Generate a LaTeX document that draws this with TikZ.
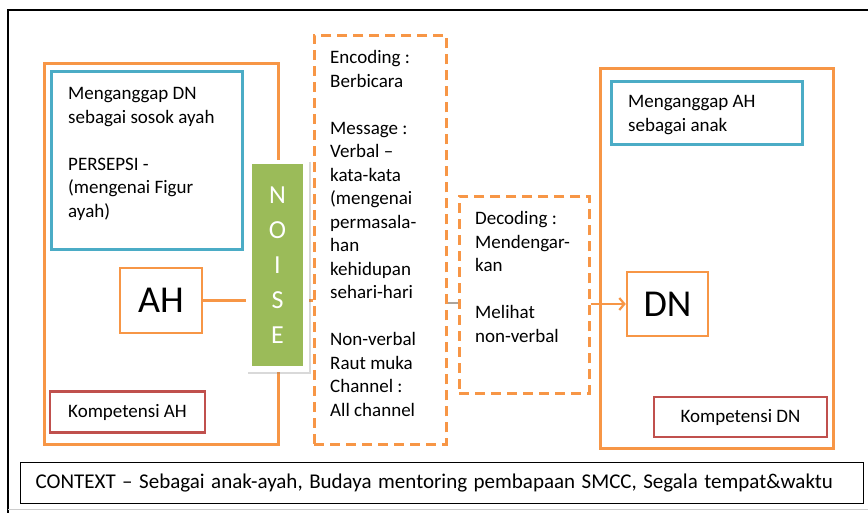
\documentclass[tikz,border=0pt]{standalone}
\usepackage{fontspec}
\setmainfont{Carlito}
\usepackage{xcolor}
\usepackage{tikz}
\usetikzlibrary{arrows.meta,positioning,shadows}
\definecolor{CommOrange}{HTML}{F79646}
\definecolor{CommBlue}{HTML}{4BACC6}
\definecolor{CommRed}{HTML}{C0504D}
\definecolor{CommGreen}{HTML}{9BBB59}
\definecolor{LinkGrey}{HTML}{ABA49C}

\begin{document}
\begin{tikzpicture}[
  x=1pt, y=-1pt,
  font=\fontsize{19}{23.5}\selectfont,
  boxsize/.style 2 args={minimum width=#1pt,minimum height=#2pt},
  frame/.style={draw=CommOrange,line width=2.5pt,anchor=north west,inner sep=0pt},
  viewbox/.style={draw=CommBlue,line width=2.6pt,anchor=north west,inner sep=0pt},
  skillbox/.style={draw=CommRed,line width=2.6pt,inner sep=0pt},
  person/.style={draw=CommOrange,line width=2.5pt,inner sep=0pt,font=\fontsize{38}{40}\selectfont},
  codebox/.style={draw=CommOrange,line width=2.6pt,dash pattern=on 10pt off 6pt,anchor=north west,inner sep=0pt},
  txt/.style={align=left,anchor=north west,inner sep=0pt,execute at begin node=\strut},
  ctxbox/.style={draw=black,line width=1.3pt,anchor=north west,minimum height=41pt,text width=813pt,inner xsep=15pt,align=left,
    font=\fontsize{21}{24}\selectfont,execute at begin node={\spaceskip=6.5pt plus 1pt\relax}},
  link/.style={draw=CommOrange,line width=2.5pt},
  arrow/.style={link,-{Straight Barb[length=5pt,width=12pt,line width=2.2pt]}}
]
  \useasboundingbox (0,0) rectangle (868,512);
  \draw[line width=2.6pt] (872,10) -- (8,10) -- (8,514);
  \draw[black!20,line width=1pt] (8,509) -- (868,509);

  \node[frame,boxsize={234}{381}] (ahside) at (43,62) {};
  \node[viewbox,boxsize={191}{178}] (ahview) at (50,70) {};
  \node[txt] (ahviewtxt) at (68,87.5) {Menganggap DN\\sebagai sosok ayah\\[23.5pt]PERSEPSI -\\(mengenai Figur\\ayah)};
  \node[person,boxsize={82}{65}] (AH) at (161,300.5) {AH};
  \node[skillbox,boxsize={155}{41}] (ahskill) at (127.5,412) {Kompetensi AH};

  \node[codebox,boxsize={132}{409}] (enc) at (313,34) {};
  \node[txt] (enctxt) at (330,50.5) {Encoding :\\Berbicara\\[23.5pt]Message :\\Verbal –\\kata-kata\\(mengenai\\permasala-\\han\\kehidupan\\sehari-hari\\[23.5pt]Non-verbal\\Raut muka\\Channel :\\All channel};

  \node[codebox,boxsize={130}{197}] (dec) at (458,195) {};
  \node[txt] (dectxt) at (475,211.5) {Decoding :\\Mendengar-\\kan\\[23.5pt]Melihat\\non-verbal};

  \node[frame,boxsize={233}{380}] (dnside) at (599,67) {};
  \node[viewbox,boxsize={191}{63}] (dnview) at (610,80) {};
  \node[txt] (dnviewtxt) at (628,95.5) {Menganggap AH\\sebagai anak};
  \node[person,boxsize={81}{64}] (DN) at (667.5,304) {DN};
  \node[skillbox,boxsize={173}{40}] (dnskill) at (740.5,417) {Kompetensi DN};

  \draw[link] (AH.east) -- (AH.east -| enc.west);
  \coordinate (msg) at (0,303);
  \draw[link,draw=LinkGrey] (enc.east |- msg) -- (dec.west |- msg);
  \draw[arrow] (dec.east |- DN.west) -- (DN.west);

  \node[fill=white,drop shadow={opacity=0.3,shadow xshift=1.5pt,shadow yshift=-2pt},boxsize={63}{212},inner sep=0pt] (noisebg) at (277.5,266) {};
  \node[fill=CommGreen,boxsize={51}{202},inner sep=0pt,align=center,text=white,font=\fontsize{26}{35}\selectfont] (noise) at (277.5,265) {N\\O\\I\\S\\E};

  \node[ctxbox] (context) at (20,462) {CONTEXT – Sebagai anak-ayah, Budaya mentoring pembapaan  SMCC, Segala tempat\&waktu};
\end{tikzpicture}
\end{document}
